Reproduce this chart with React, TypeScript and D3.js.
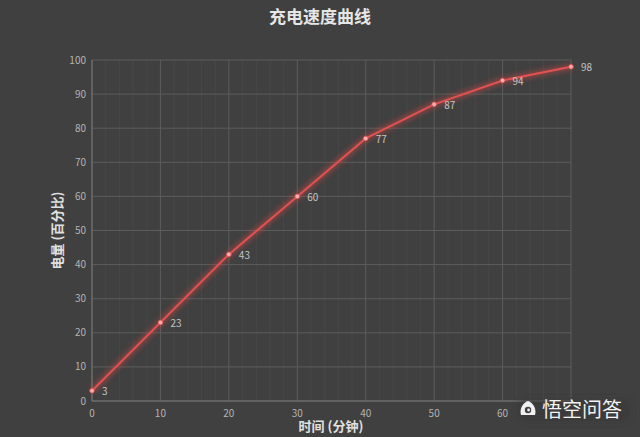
import { useEffect } from 'react';
import * as d3 from 'd3';

const minutes = [0, 10, 20, 30, 40, 50, 60, 70];
const charge = [3, 23, 43, 60, 77, 87, 94, 98];
const xTicks = [0, 10, 20, 30, 40, 50, 60, 70];
const yTicks = [0, 10, 20, 30, 40, 50, 60, 70, 80, 90, 100];
const minorX = d3.range(0, 71, 2);

const W = 640;
const H = 437;
const margin = { top: 60, right: 69, bottom: 36, left: 92 };
const innerW = W - margin.left - margin.right;
const innerH = H - margin.top - margin.bottom;

const FONT = '"Noto Sans CJK SC", "Noto Sans", sans-serif';

export default function App() {
  useEffect(() => {
    document.body.style.margin = '0';
  }, []);

  const x = d3.scaleLinear().domain([0, 70]).range([0, innerW]);
  const y = d3.scaleLinear().domain([0, 100]).range([innerH, 0]);
  const pts = minutes.map((m, i) => ({ m, v: charge[i] }));
  const line = d3.line<{ m: number; v: number }>().x(d => x(d.m)).y(d => y(d.v));
  const path = line(pts) || '';

  return (
    <svg width={W} height={H} style={{ display: 'block', background: '#404040' }}>
      <defs>
        <filter id="glow" x="-20%" y="-20%" width="140%" height="140%">
          <feGaussianBlur stdDeviation="2.5" />
        </filter>
        <filter id="shadow" x="-20%" y="-40%" width="140%" height="180%">
          <feGaussianBlur stdDeviation="3" />
        </filter>
      </defs>
      <rect width={W} height={H} fill="#404040" />
      <text x={320} y={23} textAnchor="middle" fill="#e6e6e6" fontSize={17} fontWeight="bold" fontFamily={FONT}>
        充电速度曲线
      </text>
      <g transform={`translate(${margin.left},${margin.top})`}>
        {/* minor vertical grid */}
        {minorX.filter(v => v % 10 !== 0).map(v => (
          <line key={'mx' + v} x1={x(v)} x2={x(v)} y1={0} y2={innerH} stroke="#474747" strokeWidth={1} />
        ))}
        {/* major grid */}
        {yTicks.map(v => (
          <line key={'gy' + v} x1={0} x2={innerW} y1={y(v)} y2={y(v)} stroke="#5c5c5c" strokeWidth={1} />
        ))}
        {xTicks.map(v => (
          <line key={'gx' + v} x1={x(v)} x2={x(v)} y1={0} y2={innerH} stroke="#5c5c5c" strokeWidth={1} />
        ))}
        <line x1={0} x2={0} y1={0} y2={innerH} stroke="#777" strokeWidth={1} />
        <line x1={0} x2={innerW} y1={innerH} y2={innerH} stroke="#777" strokeWidth={1} />

        {/* y tick labels */}
        {yTicks.map(v => (
          <text key={'ty' + v} x={-6} y={y(v)} dy="0.35em" textAnchor="end" fill="#b4b4b4" fontSize={10} fontFamily={FONT}>
            {v}
          </text>
        ))}
        {/* x tick labels */}
        {xTicks.map(v => (
          <text key={'tx' + v} x={x(v)} y={innerH + 16} textAnchor="middle" fill="#b4b4b4" fontSize={10} fontFamily={FONT}>
            {v}
          </text>
        ))}

        {/* line with glow */}
        <path d={path} fill="none" stroke="#e04848" strokeWidth={6} strokeOpacity={0.45} filter="url(#glow)" />
        <path d={path} fill="none" stroke="#e05252" strokeWidth={2} />
        {pts.map(p => (
          <circle key={'c' + p.m} cx={x(p.m)} cy={y(p.v)} r={2.3} fill="#ffb0b0" stroke="#e05252" strokeWidth={0.8} />
        ))}
        {pts.map(p => (
          <text key={'l' + p.m} x={x(p.m) + 10} y={y(p.v) + 1} dy="0.35em" fill="#c4c4c4" fontSize={10} fontFamily={FONT}>
            {p.v}
          </text>
        ))}
      </g>

      <text
        transform={`translate(62,${margin.top + innerH / 2}) rotate(-90)`}
        textAnchor="middle"
        fill="#e0e0e0"
        fontSize={13}
        fontWeight="bold"
        fontFamily={FONT}
      >
        电量 (百分比)
      </text>
      <text x={331} y={431} textAnchor="middle" fill="#e0e0e0" fontSize={13} fontWeight="bold" fontFamily={FONT}>
        时间 (分钟)
      </text>

      {/* watermark */}
      <g transform="translate(528,410)">
        <rect x={-10} y={-10} width={112} height={21} rx={6} fill="#3a3a3a" opacity={0.9} filter="url(#shadow)" />
        <path d="M-7,5 C-9,-2 -4,-8 0,-9 C4,-8 9,-2 7,5 Z" fill="#f0f0f0" />
        <circle cx={0} cy={0} r={3.2} fill="#404040" />
        <circle cx={0.6} cy={0} r={1.4} fill="#f0f0f0" />
        <text x={14} y={0} dy="0.36em" fill="#f2f2f2" fontSize={20} fontFamily={FONT}>
          悟空问答
        </text>
      </g>
    </svg>
  );
}
